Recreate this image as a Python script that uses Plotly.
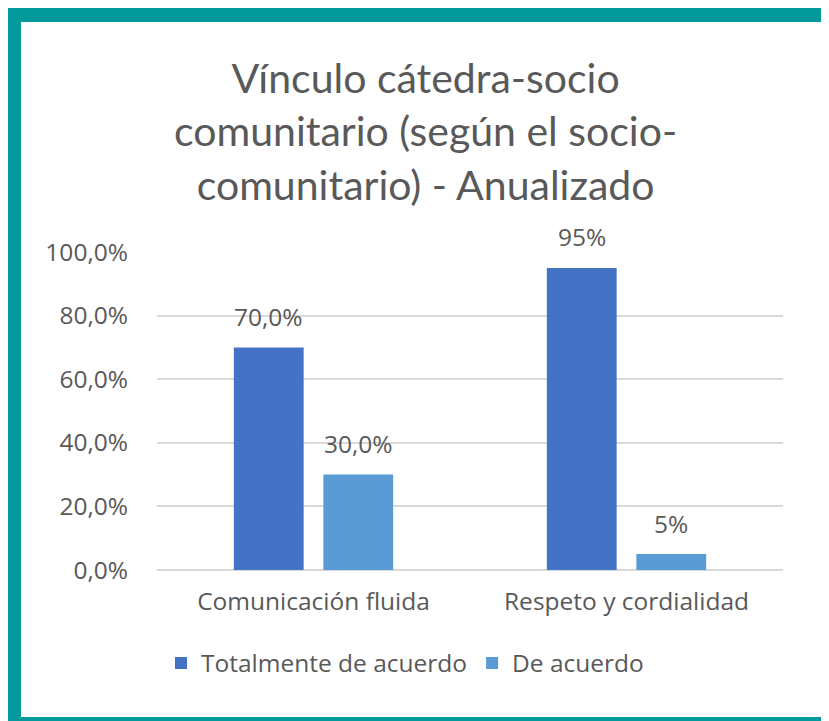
import plotly.graph_objects as go

categories = ["Comunicación fluida", "Respeto y cordialidad"]
series_names = ["Totalmente de acuerdo", "De acuerdo"]
totalmente = [70.0, 95.0]
de_acuerdo = [30.0, 5.0]
label_totalmente = ["70,0%", "95%"]
label_de_acuerdo = ["30,0%", "5%"]
tick_vals = [0, 20, 40, 60, 80, 100]
tick_text = ["0,0%", "20,0%", "40,0%", "60,0%", "80,0%", "100,0%"]

# page body adds an 8px margin, so the figure is 8px smaller than the window
OFF = 8
W, H = 829 - OFF, 721 - OFF
L, R, T, B = 157 - OFF, 46, 252 - OFF, 151
PW, PH = W - L - R, H - T - B
BARGAP = 0.428
GROUPGAP = 0.22

GRAY = "#595959"
FONT = "Open Sans"
FS = 24.5

fig = go.Figure()
fig.add_trace(go.Bar(x=categories, y=totalmente, name=series_names[0],
                     marker=dict(color="#4472C4", line=dict(width=0))))
fig.add_trace(go.Bar(x=categories, y=de_acuerdo, name=series_names[1],
                     marker=dict(color="#5B9BD5", line=dict(width=0))))

# data labels above bars
slot = PW / len(categories) * (1 - BARGAP) / 2
for vals, labs, sign in [(totalmente, label_totalmente, -1), (de_acuerdo, label_de_acuerdo, 1)]:
    for c, v, t in zip(categories, vals, labs):
        fig.add_annotation(x=c, y=v, text=t, showarrow=False, xref="x", yref="y",
                           xshift=sign * slot / 2, yshift=31, yanchor="middle",
                           font=dict(family=FONT, size=FS, color=GRAY))

def px_x(p):
    return (p - OFF - L) / PW

def px_y(p):
    return (H - B - (p - OFF)) / PH

TEAL = "#049A9B"
border = [
    (8, 8, 840, 22),
    (8, 8, 21, 740),
    (822, 8, 840, 740),
    (8, 717, 840, 740),
]
for x0, y0, x1, y1 in border:
    fig.add_shape(type="rect", xref="paper", yref="paper",
                  x0=px_x(x0), x1=px_x(x1), y0=px_y(y0), y1=px_y(y1),
                  fillcolor=TEAL, line=dict(width=0), layer="above")

fig.add_annotation(xref="paper", yref="paper", x=px_x(425), y=px_y(131),
                   text="Vínculo cátedra-socio<br>comunitario (según el socio-<br>comunitario) - Anualizado",
                   showarrow=False, xanchor="center", yanchor="middle",
                   font=dict(family="Lato", size=41, color=GRAY))

fig.update_layout(
    width=W, height=H,
    margin=dict(l=L, r=R, t=T, b=B, autoexpand=False),
    paper_bgcolor="white", plot_bgcolor="white",
    barmode="group", bargap=BARGAP, bargroupgap=GROUPGAP,
    font=dict(family=FONT, color=GRAY, size=FS),
    legend=dict(orientation="h", x=px_x(405), y=px_y(663), xanchor="center",
                yanchor="middle", font=dict(family=FONT, size=FS, color=GRAY),
                itemwidth=30, tracegroupgap=0),
    showlegend=True,
)
fig.update_xaxes(showline=False, showgrid=False, ticks="", ticklabelstandoff=14,
                 tickfont=dict(family=FONT, size=FS, color=GRAY))
fig.update_yaxes(range=[0, 100], tickvals=tick_vals, ticktext=tick_text,
                 showgrid=True, gridcolor="#D9D9D9", gridwidth=1.5,
                 zeroline=True, zerolinecolor="#D9D9D9", zerolinewidth=1.5,
                 showline=False, ticks="", ticklabelstandoff=28,
                 tickfont=dict(family=FONT, size=FS, color=GRAY))

fig.write_html("out.html")
